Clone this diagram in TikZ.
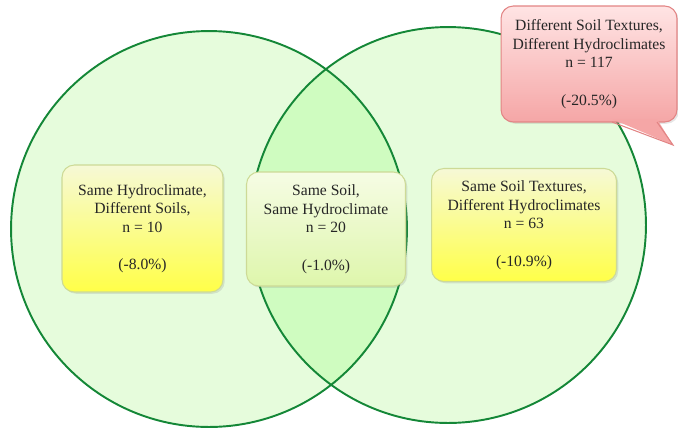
\documentclass[tikz,border=0pt]{standalone}
\usepackage{fontspec}
\setmainfont{Liberation Serif}
\usetikzlibrary{shadows}

\definecolor{ringline}{RGB}{20,135,55}
\definecolor{ringfill}{RGB}{230,252,220}
\definecolor{lensfill}{RGB}{207,252,192}
\definecolor{yellowtop}{RGB}{246,249,214}
\definecolor{yellowbot}{RGB}{255,255,72}
\definecolor{yellowedge}{RGB}{205,218,150}
\definecolor{greentop}{RGB}{246,252,228}
\definecolor{greenbot}{RGB}{222,246,172}
\definecolor{pinktop}{RGB}{255,228,228}
\definecolor{pinkbot}{RGB}{245,166,166}
\definecolor{pinkedge}{RGB}{226,132,132}

\begin{document}
\begin{tikzpicture}[x=0.02cm, y=-0.02cm,
    every node/.style={font=\fontsize{8.9}{10.6}\selectfont, text=black!85, align=center, inner sep=0pt},
    groupbox/.style={draw=yellowedge, line width=0.6pt, rounded corners=7pt,
        top color=yellowtop, bottom color=yellowbot,
        drop shadow={opacity=0.2, shadow xshift=1pt, shadow yshift=-1pt}},
    sharedbox/.style={groupbox, top color=greentop, bottom color=greenbot},
    calloutbox/.style={groupbox, draw=pinkedge, top color=pinktop, bottom color=pinkbot}]
    \useasboundingbox (0,0) rectangle (678,427);

    \coordinate (L) at (209,229);
    \coordinate (R) at (448,225);

    \fill[ringfill] (L) circle[radius=3.96cm];
    \fill[ringfill] (R) circle[radius=3.96cm];
    \begin{scope}
        \clip (L) circle[radius=3.96cm];
        \fill[lensfill] (R) circle[radius=3.96cm];
    \end{scope}
    \draw[ringline, line width=1.1pt] (L) circle[radius=3.96cm];
    \draw[ringline, line width=1.1pt] (R) circle[radius=3.96cm];

    \node[groupbox, minimum width=3.22cm, minimum height=2.54cm] (hydro) at (142.5,228.5)
        {Same Hydroclimate,\\ Different Soils,\\ n = 10\\[10.6pt] (-8.0\%)};
    \node[sharedbox, minimum width=3.18cm, minimum height=2.28cm] (both) at (326,229)
        {Same Soil,\\ Same Hydroclimate\\ n = 20\\[10.6pt] (-1.0\%)};
    \node[groupbox, minimum width=3.7cm, minimum height=2.26cm] (texture) at (524,225)
        {Same Soil Textures,\\ Different Hydroclimates\\ n = 63\\[10.6pt] (-10.9\%)};

    \node[calloutbox, minimum width=3.52cm, minimum height=2.32cm] (other) at (589,64)
        {Different Soil Textures,\\ Different Hydroclimates\\ n = 117\\[10.6pt] (-20.5\%)};
    \coordinate (tip) at (673,145);
    \fill[pinkbot] (612,119) -- (tip) -- (657,119) -- cycle;
    \draw[pinkedge, line width=0.6pt] (612,122) -- (tip) -- (657,122);
\end{tikzpicture}
\end{document}
